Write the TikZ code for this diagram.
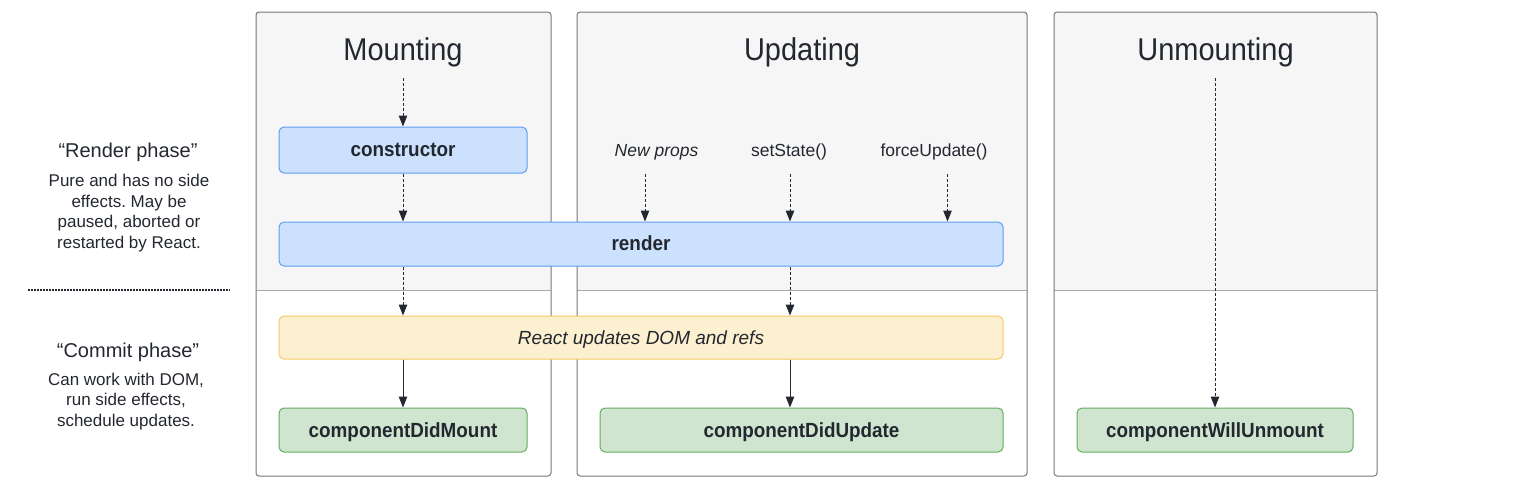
\documentclass[tikz,border=0pt]{standalone}
\usepackage{fontspec}
\setmainfont{Liberation Sans}
\newfontfamily\titlefont{Liberation Sans}[FakeStretch=0.92]
\newfontfamily\boxfont{Liberation Sans}[FakeStretch=0.92]
\usetikzlibrary{arrows.meta}
\definecolor{txt}{HTML}{23272F}
\definecolor{panelfill}{HTML}{F6F6F6}
\definecolor{panelline}{HTML}{777777}
\definecolor{divline}{HTML}{AAAAAA}
\definecolor{bluef}{HTML}{CCE1FD}
\definecolor{blueb}{HTML}{5C9EF5}
\definecolor{yellf}{HTML}{FCF0D0}
\definecolor{yellb}{HTML}{F3CB64}
\definecolor{greenf}{HTML}{D0E5CF}
\definecolor{greenb}{HTML}{64AD5E}
\frenchspacing
\begin{document}
\begin{tikzpicture}[x=1pt,y=-1pt,
  titletext/.style={anchor=base, text=txt, inner sep=0pt, font=\titlefont\fontsize{31.5}{36}\selectfont},
  boxbase/.style={rounded corners=5pt, line width=1pt, inner sep=0pt, text=txt, text height=13.5pt, text depth=0pt},
  bluebox/.style={boxbase, draw=blueb, fill=bluef, font=\boxfont\bfseries\fontsize{20.5}{24}\selectfont},
  greenbox/.style={boxbase, draw=greenb, fill=greenf, font=\boxfont\bfseries\fontsize{20.5}{24}\selectfont, text height=14.5pt},
  yellbox/.style={boxbase, draw=yellb, fill=yellf, font=\itshape\fontsize{19}{23}\selectfont, text height=14pt},
  trig/.style={anchor=base, text=txt, inner sep=0pt, font=\fontsize{17.5}{21}\selectfont},
  sidehead/.style={text=txt, inner sep=0pt, font=\fontsize{20}{24}\selectfont},
  sidebody/.style={text=txt, inner sep=0pt, align=center, font=\fontsize{17}{20.7}\selectfont},
  dasharrow/.style={draw=txt, line width=1pt, dash pattern=on 3pt off 2pt, -{Triangle[length=11pt,width=8.5pt]}},
  solidarrow/.style={draw=txt, line width=1pt, -{Triangle[length=11pt,width=8.5pt]}},
  dotline/.style={draw=txt, line width=1.5pt, dash pattern=on 1.5pt off 1.5pt}
]
\useasboundingbox (0,0) rectangle (1514,498);

% panels
\foreach \l/\r in {256/551,577/1027,1054/1377} {
  \begin{scope}
    \clip[rounded corners=3pt] (\l,12) rectangle (\r,476);
    \fill[panelfill] (\l,12) rectangle (\r,290);
  \end{scope}
  \draw[divline, line width=1pt] (\l,290) -- (\r,290);
  \draw[panelline, line width=1pt, rounded corners=3pt] (\l,12) rectangle (\r,476);
}

% titles
\node[titletext] (tm) at (403,60) {Mounting};
\node[titletext] (tu) at (802,60) {Updating};
\node[titletext] (tw) at (1215.5,60) {Unmounting};

% boxes
\node[bluebox, minimum width=248, minimum height=46] (ctor) at (403,150) {constructor};
\node[bluebox, minimum width=724, minimum height=44] (render) at (641,244) {render};
\node[yellbox, minimum width=724, minimum height=43] (react) at (641,337.5) {React updates DOM and refs};
\node[greenbox, minimum width=248, minimum height=44] (cdm) at (403,430) {componentDidMount};
\node[greenbox, minimum width=403, minimum height=44] (cdu) at (801.5,430) {componentDidUpdate};
\node[greenbox, minimum width=276, minimum height=44] (cwu) at (1215,430) {componentWillUnmount};

% update triggers
\node[trig, font=\itshape\fontsize{17.5}{21}\selectfont] (np) at (656.5,156) {New props};
\node[trig] (ss) at (789,156) {setState()};
\node[trig] (fu) at (934,156) {forceUpdate()};

% mounting arrows
\coordinate (ms) at (403,78);
\draw[dasharrow] (ms) -- (ctor);
\draw[dasharrow] (ctor.south) -- (ctor.south |- render.north);
\draw[dasharrow] (ctor.south |- render.south) -- (ctor.south |- react.north);
\draw[solidarrow] (ctor.south |- react.south) -- (cdm);

% updating arrows
\coordinate (npa) at (645,174);
\coordinate (ssa) at (790,174);
\coordinate (fua) at (947.5,174);
\draw[dasharrow] (npa) -- (npa |- render.north);
\draw[dasharrow] (ssa) -- (ssa |- render.north);
\draw[dasharrow] (fua) -- (fua |- render.north);
\draw[dasharrow] (ssa |- render.south) -- (ssa |- react.north);
\draw[solidarrow] (ssa |- react.south) -- (ssa |- cdu.north);

% unmounting arrow
\coordinate (ws) at (1215,78);
\draw[dasharrow] (ws) -- (cwu);

% side text
\node[sidehead] (rph) at (128,152.5) {“Render phase”};
\node[sidebody] (rpb) at (129,213) {Pure and has no side\\effects. May be\\paused, aborted or\\restarted by React.};
\coordinate (sepa) at (28,290);
\coordinate (sepb) at (230,290);
\draw[dotline] (sepa) -- (sepb);
\node[sidehead] (cph) at (128,352.5) {“Commit phase”};
\node[sidebody] (cpb) at (126,401.5) {Can work with DOM,\\run side effects,\\schedule updates.};
\end{tikzpicture}
\end{document}
